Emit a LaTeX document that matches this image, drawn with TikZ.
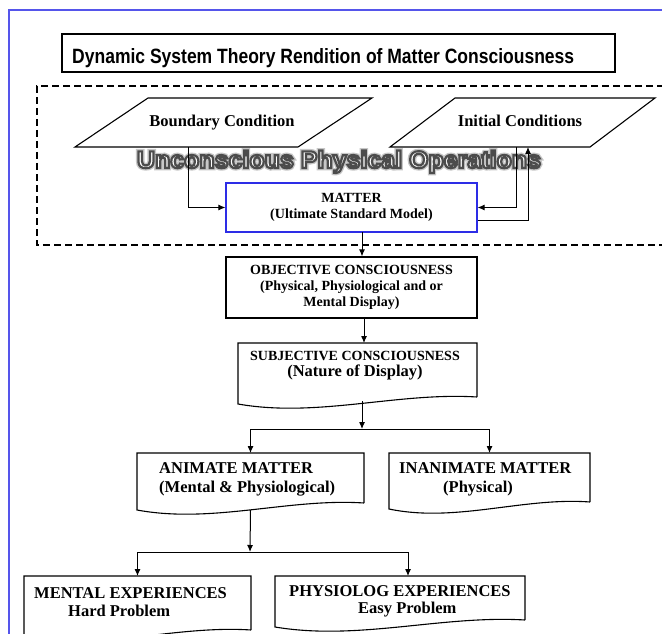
\documentclass[tikz,border=0pt]{standalone}
\usepackage{fontspec}
\setmainfont{Liberation Serif}
\setsansfont{Liberation Sans}
\usetikzlibrary{arrows.meta,calc}
\definecolor{FrameClr}{RGB}{85,85,235}
\definecolor{MatterClr}{RGB}{45,45,230}

\newcommand{\hollowtext}[1]{\special{pdf:literal direct 2 Tr 0.9 w 0.3 0.3 0.3 RG 1 1 1 rg}#1\special{pdf:literal direct 0 Tr 0 g 0 G}}
\newcommand{\halotext}[1]{\special{pdf:literal direct 1 Tr 2.0 w 0.78 0.78 0.78 RG}#1\special{pdf:literal direct 0 Tr 0 g 0 G}}
\newcommand{\docpath}[1]{%
  \draw[line width=1.1pt] ($(#1.south east)+(0,-7)$) -- (#1.north east) -- (#1.north west) -- (#1.south west)
    .. controls ($(#1.south west)!0.333!(#1.south east)+(0,14)$) and ($(#1.south west)!0.667!(#1.south east)+(0,-12)$) .. ($(#1.south east)+(0,-7)$);}

\begin{document}
\begin{tikzpicture}[x=1pt,y=-1pt,
  box/.style={draw,line width=1.1pt,inner sep=0pt},
  doc/.style={inner sep=0pt,outer sep=0pt},
  lbl/.style={font=\bfseries\fontsize{14}{16}\selectfont,align=center,inner sep=0pt},
  biglbl/.style={font=\bfseries\fontsize{16.5}{19}\selectfont,align=left,inner sep=0pt,anchor=west},
  arr/.style={-{Latex[length=7pt,width=6pt]},line width=1pt}]
\useasboundingbox (0,0) rectangle (662,634);
\clip (0,0) rectangle (662,634);

% frame and title
\draw[FrameClr,line width=1.6pt] (9,640) -- (9,10) -- (670,10);
\node[box,minimum width=553,minimum height=38] (title) at (338.5,53) {};
\node[anchor=base west,inner sep=0pt] (title-txt) at (72,64)
  {\resizebox{502pt}{15pt}{\sffamily\bfseries Dynamic System Theory Rendition of Matter Consciousness}};

% unconscious region
\draw[line width=1.1pt,dash pattern=on 7pt off 4pt] (675,86) -- (37,86) -- (37,245) -- (675,245);

\coordinate (B1) at (75,147);
\coordinate (B2) at (298,147);
\coordinate (B3) at (372,98);
\coordinate (B4) at (148,98);
\coordinate (I1) at (390,147);
\coordinate (I2) at (590,147);
\coordinate (I3) at (655,98);
\coordinate (I4) at (455,98);
\draw[line width=1.1pt] (B1) -- (B2) -- (B3) -- (B4) -- cycle;
\draw[line width=1.1pt] (I1) -- (I2) -- (I3) -- (I4) -- cycle;
\node[font=\bfseries\fontsize{16.5}{18}\selectfont,anchor=base,inner sep=0pt] (bound) at (222,126) {Boundary Condition};
\node[font=\bfseries\fontsize{16.5}{18}\selectfont,anchor=base,inner sep=0pt] (init) at (520,126) {Initial Conditions};

\node[anchor=base,inner sep=0pt] (unc-halo) at (339,168)
  {\resizebox{404pt}{17.5pt}{\halotext{\sffamily\bfseries Unconscious Physical Operations}}};
\node[anchor=base,inner sep=0pt] (unc) at (339,168)
  {\resizebox{404pt}{17.5pt}{\hollowtext{\sffamily\bfseries Unconscious Physical Operations}}};

\node[box,draw=MatterClr,lbl,minimum width=251,minimum height=49] (matter) at (351.5,207.5)
  {MATTER\\(Ultimate Standard Model)};

\coordinate (bnd-out) at (188,147);
\coordinate (ini-out) at (516,147);
\coordinate (ini-in) at (528,147);
\draw[arr] (bnd-out) |- (matter.west);
\draw[arr] (ini-out) |- (matter.east);
\draw[arr] ($(matter.east)+(0,13)$) -| (ini-in);

% consciousness
\node[box,lbl,minimum width=251,minimum height=61] (objective) at (351.5,287.5)
  {OBJECTIVE CONSCIOUSNESS\\(Physical, Physiological and or\\Mental Display)};
\node[doc,minimum width=239,minimum height=61] (subjective) at (357.5,373.5) {};
\docpath{subjective}
\node[lbl] (subjective-txt) at (355,366)
  {SUBJECTIVE CONSCIOUSNESS\\{\fontsize{16.5}{19}\selectfont (Nature of Display)}};

\coordinate (m-out) at (362,232);
\coordinate (o-out) at (364,318);
\coordinate (s-out) at (362,401);
\coordinate (j1) at (362,429);
\draw[arr] (m-out) -- (m-out |- objective.north);
\draw[arr] (o-out) -- (o-out |- subjective.north);
\draw[arr] (s-out) -- (j1);

% matter kinds
\node[doc,minimum width=227,minimum height=57] (animate) at (250.5,481.5) {};
\node[doc,minimum width=201,minimum height=56] (inanimate) at (489.5,481) {};
\docpath{animate}
\docpath{inanimate}
\node[biglbl] (animate-txt) at (159,479) {ANIMATE MATTER\\(Mental \& Physiological)};
\node[biglbl] (inanimate-txt) at (399,479) {INANIMATE MATTER\\\hspace*{44pt}(Physical)};
\draw[arr] (j1) -| (animate.north);
\draw[arr] (j1) -| (inanimate.north);

% experiences
\coordinate (j2) at (250,552);
\node[doc,minimum width=227,minimum height=61] (mental) at (137.5,606.5) {};
\node[doc,minimum width=250,minimum height=51] (physio) at (400,601.5) {};
\docpath{mental}
\docpath{physio}
\node[biglbl,font=\bfseries\fontsize{16.5}{18}\selectfont] (mental-txt) at (34,602) {MENTAL EXPERIENCES\\\hspace*{34pt}Hard Problem};
\node[biglbl,font=\bfseries\fontsize{16.5}{17}\selectfont] (physio-txt) at (289,601) {PHYSIOLOG EXPERIENCES\\\hspace*{69pt}Easy Problem};
\coordinate (phys-in) at ($(physio.north)+(8,0)$);
\draw[arr] (animate.south) -- (j2);
\draw[arr] (j2) -| (mental.north);
\draw[arr] (j2) -| (phys-in);

\end{tikzpicture}
\end{document}
